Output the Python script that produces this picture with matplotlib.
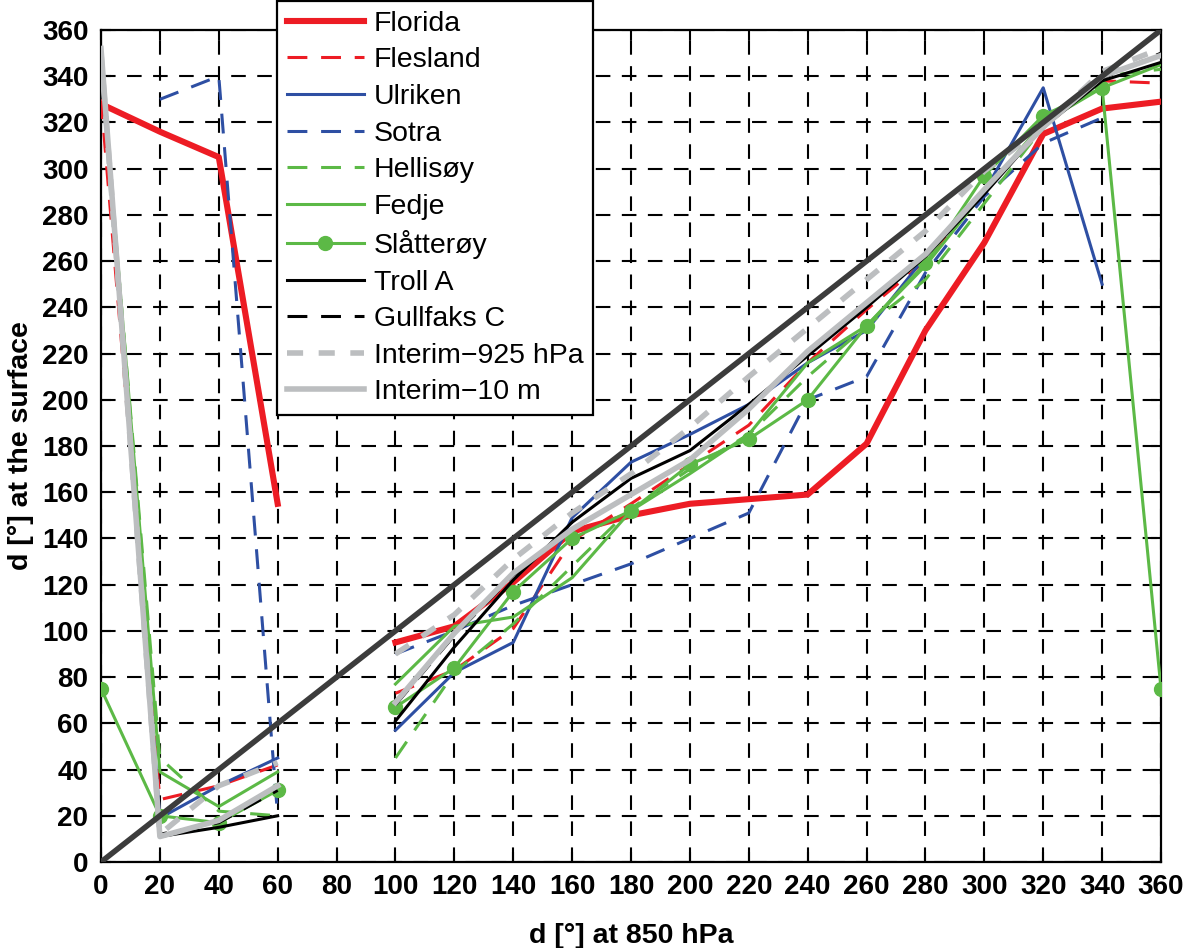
import numpy as np
import matplotlib
matplotlib.use("Agg")
import matplotlib.pyplot as plt

plt.rcParams['font.family'] = ['Liberation Sans', 'DejaVu Sans']

nan = np.nan
x = [0, 20, 40, 60, 80, 100, 120, 140, 160, 180, 200, 220, 240, 260, 280, 300, 320, 340, 360]

florida    = [328, 316, 305, 155, nan, 95, 102, 121, 143, 150, 155, 157, 159, 181, 230, 268, 315, 326, 329]
flesland   = [330, 27, 33, 42, nan, 73, 83, 101, 139, 155, 172, 189, 216, 239, 260, 290, 318, 338, 337]
ulriken    = [350, 19, 33, 45, nan, 57, 82, 95, 149, 173, 185, 198, 216, 230, 262, 290, 335, 250, nan]
sotra      = [nan, 330, 340, 20, nan, 90, 100, 111, 120, 129, 140, 151, 200, 210, 255, 288, 311, 322, nan]
hellisoy   = [345, 45, 22, 20, nan, 45, 82, 103, 128, 153, 170, 185, 210, 232, 252, 285, 318, 340, 343]
fedje      = [348, 39, 24, 39, nan, 77, 102, 106, 123, 152, 168, 185, 216, 232, 258, 290, 320, 335, 345]
slatteroy  = [75, 20, 17, 31, nan, 67, 84, 117, 140, 152, 172, 183, 200, 232, 259, 297, 323, 335, 75]
troll_a    = [350, 11, 15, 20, nan, 61, 93, 122, 147, 166, 178, 198, 219, 240, 262, 289, 318, 338, 346]
gullfaks_c = [351, 12, 17, 31, nan, 68, 98, 124, 144, 159, 174, 196, 220, 241, 262, 290, 318, 339, 350]
interim925 = [350, 12, 33, 43, nan, 90, 107, 131, 151, 168, 188, 210, 231, 252, 273, 299, 318, 342, 352]
interim10  = [352, 11, 18, 33, nan, 69, 99, 125, 144, 159, 174, 196, 221, 242, 263, 291, 318, 340, 349]

ticks = list(range(0, 361, 20))

RED = '#ED1C24'
BLUE = '#2E4FA3'
GREEN = '#5CB946'
GRAY = '#BCBEC0'
DARK = '#3C3C3C'

fig = plt.figure(figsize=(11.85, 9.48), dpi=100)
ax = fig.add_axes([101/1185, 1-862/948, (1161-101)/1185, (862-30)/948])

THIN = 2.2
dash_thin = (0, (6.5, 4.5))
ax.plot(x, florida, color=RED, lw=4.4, label='Florida', zorder=3)
ax.plot(x, flesland, color=RED, lw=THIN, ls=dash_thin, label='Flesland', zorder=3)
ax.plot(x, ulriken, color=BLUE, lw=THIN, label='Ulriken', zorder=3)
ax.plot(x, sotra, color=BLUE, lw=THIN, ls=dash_thin, label='Sotra', zorder=3)
ax.plot(x, hellisoy, color=GREEN, lw=THIN, ls=dash_thin, label='Hellisøy', zorder=3)
ax.plot(x, fedje, color=GREEN, lw=THIN, label='Fedje', zorder=3)
ax.plot(x, slatteroy, color=GREEN, lw=THIN, marker='o', ms=10, mec=GREEN, mfc=GREEN,
        label='Slåtterøy', zorder=3)
ax.plot(x, troll_a, color='black', lw=THIN, label='Troll A', zorder=3)
ax.plot(x, gullfaks_c, color='black', lw=THIN, ls=dash_thin, label='Gullfaks C', zorder=3)
ax.plot(x, interim925, color=GRAY, lw=4.0, ls=(0, (2.9, 2.8)), label='Interim\u2212925 hPa', zorder=4)
ax.plot(x, interim10, color=GRAY, lw=4.0, label='Interim\u221210 m', zorder=4)
ax.plot([0, 360], [0, 360], color=DARK, lw=4.0, zorder=5)

ax.set_xlim(0, 360)
ax.set_ylim(0, 360)
ax.set_xticks(ticks)
ax.set_yticks(ticks)
ax.grid(True, color='black', ls=(0, (7, 5.5)), lw=1.5)
ax.tick_params(direction='in', length=7, width=1.5, top=True, right=True,
               labelsize=20, pad=9)
for lab in ax.get_xticklabels() + ax.get_yticklabels():
    lab.set_fontweight('bold')
for s in ax.spines.values():
    s.set_linewidth(1.6)

ax.set_xlabel('d [°] at 850 hPa', fontsize=20.5, fontweight='bold', labelpad=16)
ax.set_ylabel('d [°] at the surface', fontsize=20.5, fontweight='bold', labelpad=6)

leg = ax.legend(loc='upper left', bbox_to_anchor=(277/1185, 0.999),
                bbox_transform=fig.transFigure, borderaxespad=0,
                fontsize=20.5, frameon=True, fancybox=False, framealpha=1,
                edgecolor='black', handlelength=2.7, handletextpad=0.35,
                labelspacing=0.37, borderpad=0.35)
leg.get_frame().set_linewidth(1.6)
leg.set_zorder(10)

fig.savefig('out.png', dpi=100)
